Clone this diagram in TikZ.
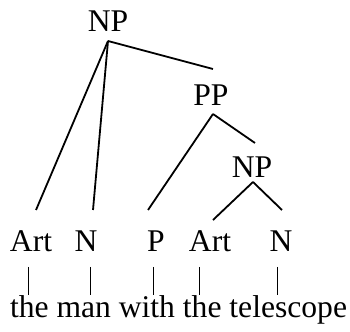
\documentclass[tikz,border=0pt]{standalone}
\usepackage{fontspec}
\setmainfont{Liberation Serif}
\begin{document}
\begin{tikzpicture}[x=0.5pt, y=-0.5pt, cat/.style = {anchor=base, inner sep=0pt, font=\fontsize{15.8}{18}\selectfont}, branch/.style = {line width=0.9pt}, tick/.style = {line width=0.45pt}]
            \useasboundingbox (0,0) rectangle (350,332);
            \node[cat] (NP) at (108,32) {NP};
            \node[cat] (PP) at (211,105) {PP};
            \node[cat] (NPx) at (252,178) {NP};
            \node[cat] (Art) at (31,252) {Art};
            \node[cat] (N) at (86,252) {N};
            \node[cat] (P) at (156,252) {P};
            \node[cat] (Artx) at (210,252) {Art};
            \node[cat] (Nx) at (281,252) {N};
            \node[cat] (words) at (178.5,318) {the man with the telescope};

            \coordinate (NPb) at (108,41);
            \coordinate (PPb) at (213,114);
            \coordinate (NPxb) at (253,182);
            \coordinate (PPt) at (213,69);
            \coordinate (NPxt) at (255,143);
            \coordinate (Artt) at (36,210);
            \coordinate (Nt) at (93,210);
            \coordinate (Pt) at (148,210);
            \coordinate (Artxt) at (213,220);
            \coordinate (Nxt) at (282,210);

            \path[branch] (NPb) edge (Artt) edge (Nt) edge (PPt);
            \path[branch] (PPb) edge (Pt) edge (NPxt);
            \path[branch] (NPxb) edge (Artxt) edge (Nxt);

            \foreach \x [count=\i] in {28,90,153,199,277}
                {\coordinate (bar\i) at (\x,267);
                 \draw[tick] (bar\i) -- ++(0,28);}
        \end{tikzpicture}
\end{document}
